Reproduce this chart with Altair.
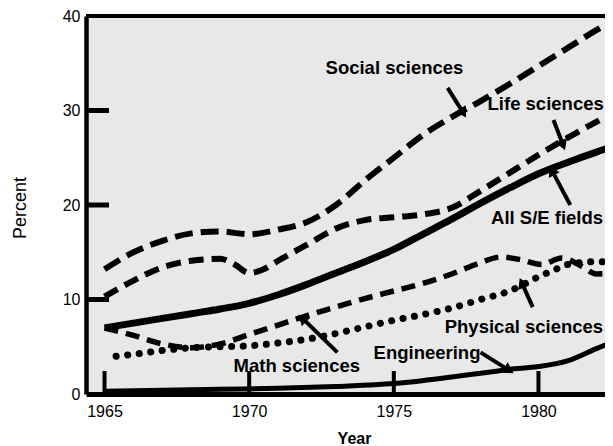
import math
import altair as alt
import pandas as pd

# ---------------- data ----------------
years_social = [1965, 1966, 1967, 1968, 1969, 1970, 1971, 1972, 1973, 1974, 1975,
                1976, 1977, 1978, 1979, 1980, 1981, 1982, 1983]
social = [13.2, 15.0, 16.2, 17.0, 17.2, 16.9, 17.4, 18.2, 20.0, 22.6, 25.0,
          27.4, 29.3, 31.0, 32.8, 34.7, 36.6, 38.5, 40.2]

years_life = [1965, 1966, 1967, 1968, 1969, 1969.5, 1970, 1970.5, 1971, 1972, 1973,
              1974, 1975, 1976, 1977, 1978, 1979, 1980, 1981, 1982, 1983]
life = [10.3, 12.0, 13.4, 14.1, 14.3, 13.7, 12.8, 13.2, 14.1, 15.8, 17.5,
        18.4, 18.7, 19.0, 19.7, 21.5, 23.4, 25.3, 27.1, 28.8, 30.4]

years_all = [1965, 1966, 1967, 1968, 1969, 1970, 1971, 1972, 1973, 1974, 1975,
             1976, 1977, 1978, 1979, 1980, 1981, 1982, 1983]
all_se = [7.0, 7.5, 8.0, 8.5, 9.0, 9.6, 10.5, 11.6, 12.8, 14.0, 15.3,
          16.9, 18.5, 20.2, 21.8, 23.3, 24.5, 25.6, 26.6]

years_math = [1965, 1966, 1967, 1968, 1969, 1970, 1971, 1972, 1973, 1974, 1975,
              1976, 1977, 1978, 1978.7, 1979.4, 1980.1, 1980.8, 1981.5, 1982, 1983]
math_sci = [7.0, 6.2, 5.3, 4.9, 5.3, 6.3, 7.3, 8.3, 9.2, 10.1, 10.9,
            11.7, 12.7, 13.9, 14.5, 14.2, 13.7, 14.4, 13.5, 12.7, 12.9]

years_phys = [1965.4, 1966, 1967, 1968, 1969, 1970, 1971, 1972, 1973, 1974, 1975,
              1976, 1977, 1978, 1979, 1980, 1980.6, 1981, 1982, 1983]
phys = [4.0, 4.2, 4.6, 4.9, 5.0, 5.1, 5.4, 5.8, 6.4, 7.1, 7.8,
        8.4, 9.1, 10.0, 10.9, 12.4, 13.2, 13.7, 14.0, 14.0]

years_eng = [1965, 1967, 1969, 1971, 1973, 1975, 1977, 1978, 1979, 1980, 1981, 1982, 1983]
eng = [0.3, 0.4, 0.5, 0.6, 0.8, 1.1, 1.8, 2.2, 2.6, 2.9, 3.5, 4.8, 6.0]

label_text = ["Social sciences", "Life sciences", "All S/E fields",
              "Physical sciences", "Math sciences", "Engineering"]
label_year = [1972.64, 1978.24, 1978.36, 1976.76, 1969.46, 1974.3]
label_value = [34.5, 30.7, 18.6, 7.1, 3.0, 4.3]

arrow_tail_year = [1976.86, 1980.52, 1981.1, 1979.8, 1973.05, 1978.0]
arrow_tail_value = [32.4, 29.0, 20.0, 9.2, 4.4, 4.4]
arrow_head_year = [1977.37, 1980.83, 1980.49, 1979.45, 1971.88, 1978.93]
arrow_head_value = [29.9, 26.5, 23.5, 11.6, 7.9, 2.6]

x_ticks = [1965, 1970, 1975, 1980]
y_ticks = [10, 20, 30]
y_labels = [0, 10, 20, 30, 40]

# ---------------- layout ----------------
W, H = 519, 378
X0 = 1964.36
X1 = X0 + W / 28.93
xscale = alt.Scale(domain=[X0, X1], nice=False, zero=False)
yscale = alt.Scale(domain=[0, 40], nice=False)
FONT = "Liberation Sans"

x_axis = alt.Axis(values=x_ticks, format="d", labelFontSize=16, labelFont=FONT,
                  labelColor="black", labelPadding=9, ticks=False, grid=False,
                  domainColor="black", domainWidth=5, title="Year",
                  titleFont=FONT, titleFontSize=16, titleFontWeight="bold",
                  titleColor="black", titleX=268, titleY=49,
                  titleBaseline="alphabetic", titleAlign="center")
y_axis = alt.Axis(values=y_labels, labelFontSize=16, labelFont=FONT,
                  labelColor="black", labelPadding=6, ticks=False, grid=False,
                  domainColor="black", domainWidth=4.5, title="Percent",
                  titleFont=FONT, titleFontSize=18, titleFontWeight="normal",
                  titleColor="black", titleX=-66, titleY=191.5, titleAngle=270,
                  titleAlign="center", titleBaseline="middle")


def series(years, vals, **mark):
    df = pd.DataFrame({"year": years, "value": vals})
    return alt.Chart(df).mark_line(color="black", interpolate="monotone",
                                   clip=True, **mark).encode(
        x=alt.X("year:Q", scale=xscale, axis=x_axis),
        y=alt.Y("value:Q", scale=yscale, axis=y_axis),
    )


l_social = series(years_social, social, strokeWidth=6, strokeDash=[18, 8])
l_life = series(years_life, life, strokeWidth=6, strokeDash=[15, 8])
l_all = series(years_all, all_se, strokeWidth=7)
l_math = series(years_math, math_sci, strokeWidth=5.5, strokeDash=[14, 8])
l_phys = series(years_phys, phys, strokeWidth=7, strokeDash=[0.1, 11.5],
                strokeCap="round")
l_eng = series(years_eng, eng, strokeWidth=5)

# top border
top = alt.Chart(pd.DataFrame({"value": [40]})).mark_rule(
    color="black", strokeWidth=4).encode(
    y=alt.Y("value:Q", scale=yscale), x=alt.value(0), x2=alt.value(W))

# inward ticks
ytick = alt.Chart(pd.DataFrame({"value": y_ticks})).mark_rule(
    color="black", strokeWidth=5).encode(
    y=alt.Y("value:Q", scale=yscale), x=alt.value(0), x2=alt.value(23))
xtick = alt.Chart(pd.DataFrame({"year": x_ticks})).mark_rule(
    color="black", strokeWidth=4).encode(
    x=alt.X("year:Q", scale=xscale), y=alt.value(H), y2=alt.value(H - 23))

# labels
lab = alt.Chart(pd.DataFrame({"year": label_year, "value": label_value,
                              "t": label_text})).mark_text(
    align="left", baseline="middle", font=FONT, fontSize=18.5,
    fontWeight="bold", color="black").encode(
    x=alt.X("year:Q", scale=xscale), y=alt.Y("value:Q", scale=yscale), text="t:N")

# arrows
pxy = W / (X1 - X0)
pxv = H / 40.0
angles = []
for ty, tv, hy, hv in zip(arrow_tail_year, arrow_tail_value,
                          arrow_head_year, arrow_head_value):
    dx = (hy - ty) * pxy
    dy = -(hv - tv) * pxv
    angles.append((math.degrees(math.atan2(dx, -dy)) + 360) % 360)

arr_df = pd.DataFrame({"ty": arrow_tail_year, "tv": arrow_tail_value,
                       "hy": arrow_head_year, "hv": arrow_head_value,
                       "ang": angles})
shaft = alt.Chart(arr_df).mark_rule(color="black", strokeWidth=4).encode(
    x=alt.X("ty:Q", scale=xscale), y=alt.Y("tv:Q", scale=yscale),
    x2="hy:Q", y2="hv:Q")
head = alt.Chart(arr_df).mark_point(shape="triangle", filled=True,
                                    color="black", opacity=1, size=150).encode(
    x=alt.X("hy:Q", scale=xscale), y=alt.Y("hv:Q", scale=yscale),
    angle=alt.Angle("ang:Q", scale=None))

chart = alt.layer(
    l_social, l_life, l_all, l_math, l_phys, l_eng,
    top, ytick, xtick, shaft, head, lab
).properties(
    width=W, height=H,
    autosize=alt.AutoSizeParams(type="none"),
    padding={"left": 78, "top": 8, "right": 0, "bottom": 52},
    background="white",
).configure_view(stroke=None, fill="#e8e8e8")

chart.save("out.html", embed_options={"renderer": "svg", "actions": False})
